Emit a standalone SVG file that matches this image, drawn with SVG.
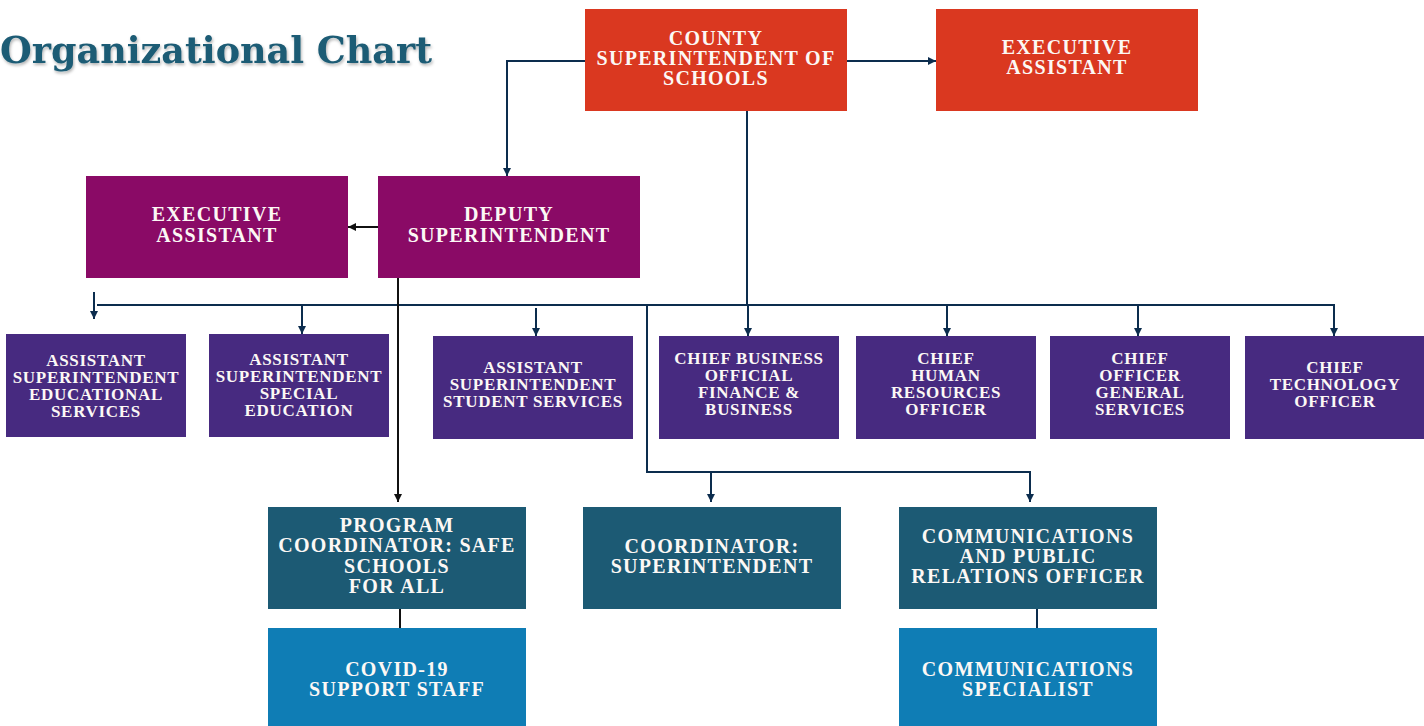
<svg xmlns="http://www.w3.org/2000/svg" width="1424" height="726" viewBox="0 0 1424 726">
<defs>
<filter id="tshadow" x="-5%" y="-30%" width="110%" height="160%">
<feDropShadow dx="1" dy="2" stdDeviation="1.5" flood-color="#000" flood-opacity="0.3"/>
</filter>
<marker id="arrN" viewBox="0 0 8 8" refX="8" refY="4" markerWidth="8" markerHeight="8" markerUnits="userSpaceOnUse" orient="auto">
<path d="M0,0 L8,4 L0,8 z" fill="#0c2d4e"/>
</marker>
<marker id="arrK" viewBox="0 0 8 8" refX="8" refY="4" markerWidth="8" markerHeight="8" markerUnits="userSpaceOnUse" orient="auto">
<path d="M0,0 L8,4 L0,8 z" fill="#111"/>
</marker>
</defs>
<style>
.red{fill:#da3820}
.mag{fill:#8a0a66}
.pur{fill:#472a80}
.teal{fill:#1c5a74}
.blue{fill:#0f7db5}
.t{font-family:"Liberation Serif","Times New Roman",serif;font-weight:bold;fill:#fcf8f5;text-anchor:middle}
.big{font-size:20px;letter-spacing:1.3px}
.sm{font-size:17px;letter-spacing:0.7px}
.cn{fill:none;stroke:#0c2d4e;stroke-width:2}
.ck{fill:none;stroke:#111;stroke-width:2}
.title{font-family:"DejaVu Serif","Liberation Serif",serif;font-weight:bold;font-size:37px;fill:#1d5b74}
</style>
<rect width="1424" height="726" fill="#fff"/>
<text class="title" x="0" y="63" textLength="432" lengthAdjust="spacingAndGlyphs" filter="url(#tshadow)">Organizational Chart</text>

<g id="connectors">
<path class="cn" d="M585,61 H507 V176" marker-end="url(#arrN)"/>
<path class="cn" d="M847,61 H936" marker-end="url(#arrN)"/>
<path class="cn" d="M747,111 V305"/>
<path class="cn" d="M97,305 H1335"/>
<path class="cn" d="M94,292 V319" marker-end="url(#arrN)"/>
<path class="cn" d="M302,305 V334" marker-end="url(#arrN)"/>
<path class="cn" d="M536,308 V336" marker-end="url(#arrN)"/>
<path class="cn" d="M748,305 V336" marker-end="url(#arrN)"/>
<path class="cn" d="M947,305 V336" marker-end="url(#arrN)"/>
<path class="cn" d="M1138,305 V336" marker-end="url(#arrN)"/>
<path class="cn" d="M1334,305 V336" marker-end="url(#arrN)"/>
<path class="ck" d="M378,227 H348" marker-end="url(#arrK)"/>
<path class="ck" d="M398,278 V502" marker-end="url(#arrK)"/>
<path class="cn" d="M647,305 V472 H1030 V502" marker-end="url(#arrN)"/>
<path class="cn" d="M711,472 V502" marker-end="url(#arrN)"/>
<path class="ck" d="M400,609 V628"/>
<path class="cn" d="M1037,609 V628"/>
</g>

<g id="county-superintendent">
<rect class="red" x="585" y="9" width="262" height="102"/>
<text class="t big" x="716" y="45">COUNTY</text>
<text class="t big" x="716" y="65">SUPERINTENDENT OF</text>
<text class="t big" x="716" y="85">SCHOOLS</text>
</g>
<g id="executive-assistant-1">
<rect class="red" x="936" y="9" width="262" height="102"/>
<text class="t big" x="1067" y="54">EXECUTIVE</text>
<text class="t big" x="1067" y="74">ASSISTANT</text>
</g>
<g id="deputy-superintendent">
<rect class="mag" x="378" y="176" width="262" height="102"/>
<text class="t big" x="509" y="221">DEPUTY</text>
<text class="t big" x="509" y="242">SUPERINTENDENT</text>
</g>
<g id="executive-assistant-2">
<rect class="mag" x="86" y="176" width="262" height="102"/>
<text class="t big" x="217" y="221">EXECUTIVE</text>
<text class="t big" x="217" y="242">ASSISTANT</text>
</g>

<g id="asst-educational">
<rect class="pur" x="6" y="334" width="180" height="103"/>
<text class="t sm" x="96" y="366">ASSISTANT</text>
<text class="t sm" x="96" y="383">SUPERINTENDENT</text>
<text class="t sm" x="96" y="400">EDUCATIONAL</text>
<text class="t sm" x="96" y="417">SERVICES</text>
</g>
<g id="asst-special">
<rect class="pur" x="209" y="334" width="180" height="103"/>
<text class="t sm" x="299" y="365">ASSISTANT</text>
<text class="t sm" x="299" y="382">SUPERINTENDENT</text>
<text class="t sm" x="299" y="399">SPECIAL</text>
<text class="t sm" x="299" y="416">EDUCATION</text>
</g>
<g id="asst-student">
<rect class="pur" x="433" y="336" width="200" height="103"/>
<text class="t sm" x="533" y="373">ASSISTANT</text>
<text class="t sm" x="533" y="390">SUPERINTENDENT</text>
<text class="t sm" x="533" y="407">STUDENT SERVICES</text>
</g>
<g id="chief-business">
<rect class="pur" x="659" y="336" width="180" height="103"/>
<text class="t sm" x="749" y="364">CHIEF BUSINESS</text>
<text class="t sm" x="749" y="381">OFFICIAL</text>
<text class="t sm" x="749" y="398">FINANCE &amp;</text>
<text class="t sm" x="749" y="415">BUSINESS</text>
</g>
<g id="chief-hr">
<rect class="pur" x="856" y="336" width="180" height="103"/>
<text class="t sm" x="946" y="364">CHIEF</text>
<text class="t sm" x="946" y="381">HUMAN</text>
<text class="t sm" x="946" y="398">RESOURCES</text>
<text class="t sm" x="946" y="415">OFFICER</text>
</g>
<g id="chief-general">
<rect class="pur" x="1050" y="336" width="180" height="103"/>
<text class="t sm" x="1140" y="364">CHIEF</text>
<text class="t sm" x="1140" y="381">OFFICER</text>
<text class="t sm" x="1140" y="398">GENERAL</text>
<text class="t sm" x="1140" y="415">SERVICES</text>
</g>
<g id="chief-technology">
<rect class="pur" x="1245" y="336" width="179" height="103"/>
<text class="t sm" x="1335" y="373">CHIEF</text>
<text class="t sm" x="1335" y="390">TECHNOLOGY</text>
<text class="t sm" x="1335" y="407">OFFICER</text>
</g>

<g id="program-coordinator">
<rect class="teal" x="268" y="507" width="258" height="102"/>
<text class="t big" x="397" y="532">PROGRAM</text>
<text class="t big" x="397" y="552">COORDINATOR: SAFE</text>
<text class="t big" x="397" y="573">SCHOOLS</text>
<text class="t big" x="397" y="593">FOR ALL</text>
</g>
<g id="coordinator-superintendent">
<rect class="teal" x="583" y="507" width="258" height="102"/>
<text class="t big" x="712" y="553">COORDINATOR:</text>
<text class="t big" x="712" y="573">SUPERINTENDENT</text>
</g>
<g id="communications-officer">
<rect class="teal" x="899" y="507" width="258" height="102"/>
<text class="t big" x="1028" y="543">COMMUNICATIONS</text>
<text class="t big" x="1028" y="563">AND PUBLIC</text>
<text class="t big" x="1028" y="583">RELATIONS OFFICER</text>
</g>
<g id="covid-staff">
<rect class="blue" x="268" y="628" width="258" height="98"/>
<text class="t big" x="397" y="676">COVID-19</text>
<text class="t big" x="397" y="696">SUPPORT STAFF</text>
</g>
<g id="communications-specialist">
<rect class="blue" x="899" y="628" width="258" height="98"/>
<text class="t big" x="1028" y="676">COMMUNICATIONS</text>
<text class="t big" x="1028" y="696">SPECIALIST</text>
</g>
</svg>
